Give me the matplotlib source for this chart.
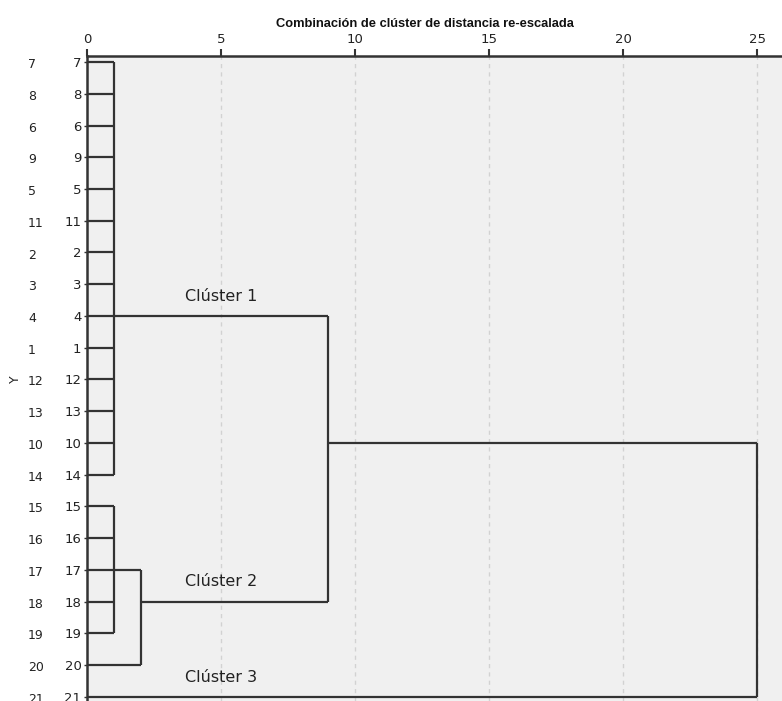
import matplotlib
matplotlib.use("Agg")
import matplotlib.pyplot as plt

# ---- data ----
leaves = [7, 8, 6, 9, 5, 11, 2, 3, 4, 1, 12, 13, 10, 14, 15, 16, 17, 18, 19, 20, 21]
outer_labels = [str(v) for v in leaves]
inner_labels = [str(v) for v in leaves]

merge_names = ["M1", "M2", "M3", "M4", "M5"]
merge_children = [
    [7, 8, 6, 9, 5, 11, 2, 3, 4, 1, 12, 13, 10, 14],
    [15, 16, 17, 18, 19],
    ["M2", 20],
    ["M1", "M3"],
    ["M4", 21],
]
merge_heights = [1, 1, 2, 9, 25]
merge_anchor_leaf = [4, 17, 18, 10, None]

x_ticks = [0, 5, 10, 15, 20, 25]
cluster_texts = ["Clúster 1", "Clúster 2", "Clúster 3"]
cluster_text_rows = [8, 17, 20]
title = "Combinación de clúster de distancia re-escalada"

# ---- figure ----
W, H, DPI = 782, 701, 100
fig = plt.figure(figsize=(W / DPI, H / DPI), dpi=DPI)
fig.patch.set_facecolor("white")
ax = fig.add_axes([87 / W, 0, (W - 87) / W, (H - 56) / H])
ax.set_facecolor("#f0f0f0")

n = len(leaves)
row_of = {leaf: i for i, leaf in enumerate(leaves)}
x_of = {leaf: 0 for leaf in leaves}

line_kw = dict(color="#333333", lw=1.6, solid_capstyle="butt", zorder=3)

for name, children, h, anchor in zip(merge_names, merge_children, merge_heights, merge_anchor_leaf):
    rows = [row_of[c] for c in children]
    for c in children:
        ax.plot([x_of[c], h], [row_of[c], row_of[c]], **line_kw)
    ax.plot([h, h], [min(rows), max(rows)], **line_kw)
    if anchor is not None:
        row_of[name] = row_of[anchor]
        x_of[name] = h

# grid
for t in x_ticks[1:]:
    ax.axvline(t, color="#d2d2d2", lw=1.0, ls=(0, (3, 3)), zorder=1)

ax.set_xlim(0, (W - 87) / 26.8)
ax.set_ylim(20.13, -0.19)

# top axis
ax.xaxis.tick_top()
ax.set_xticks(x_ticks)
ax.set_xticklabels([str(t) for t in x_ticks], fontsize=9.5, family="DejaVu Sans", color="#222222")
ax.tick_params(axis="x", direction="out", length=5, width=1.5, color="#333333", pad=2)
ax.set_title(title, fontsize=9.3, fontweight="bold", family="Liberation Sans", pad=21,
             x=(425 - 87) / (W - 87), color="#111111")

# left inner labels
ax.set_yticks(range(n))
ax.set_yticklabels(inner_labels, fontsize=9.5, family="DejaVu Sans", color="#222222")
ax.tick_params(axis="y", direction="out", length=2, width=1.0, color="#333333", pad=2)

# outer labels
for i, lab in enumerate(outer_labels):
    ax.text(-(87 - 28) / 26.8, i + 0.08, lab, ha="left", va="center", fontsize=9,
            family="DejaVu Sans", color="#222222", clip_on=False)
ax.text(-(87 - 15) / 26.8, 10, "Y", ha="center", va="center", rotation=90,
        fontsize=9, family="DejaVu Sans", color="#222222", clip_on=False)

for txt, r in zip(cluster_texts, cluster_text_rows):
    ax.text(5, r - 0.62, txt, ha="center", va="center", fontsize=11.5,
            family="DejaVu Sans", color="#222222", zorder=4)

for s in ["right", "bottom"]:
    ax.spines[s].set_visible(False)
ax.spines["top"].set_linewidth(1.8)
ax.spines["top"].set_color("#333333")
ax.spines["left"].set_linewidth(1.8)
ax.spines["left"].set_color("#333333")

fig.savefig("out.png", dpi=DPI)
